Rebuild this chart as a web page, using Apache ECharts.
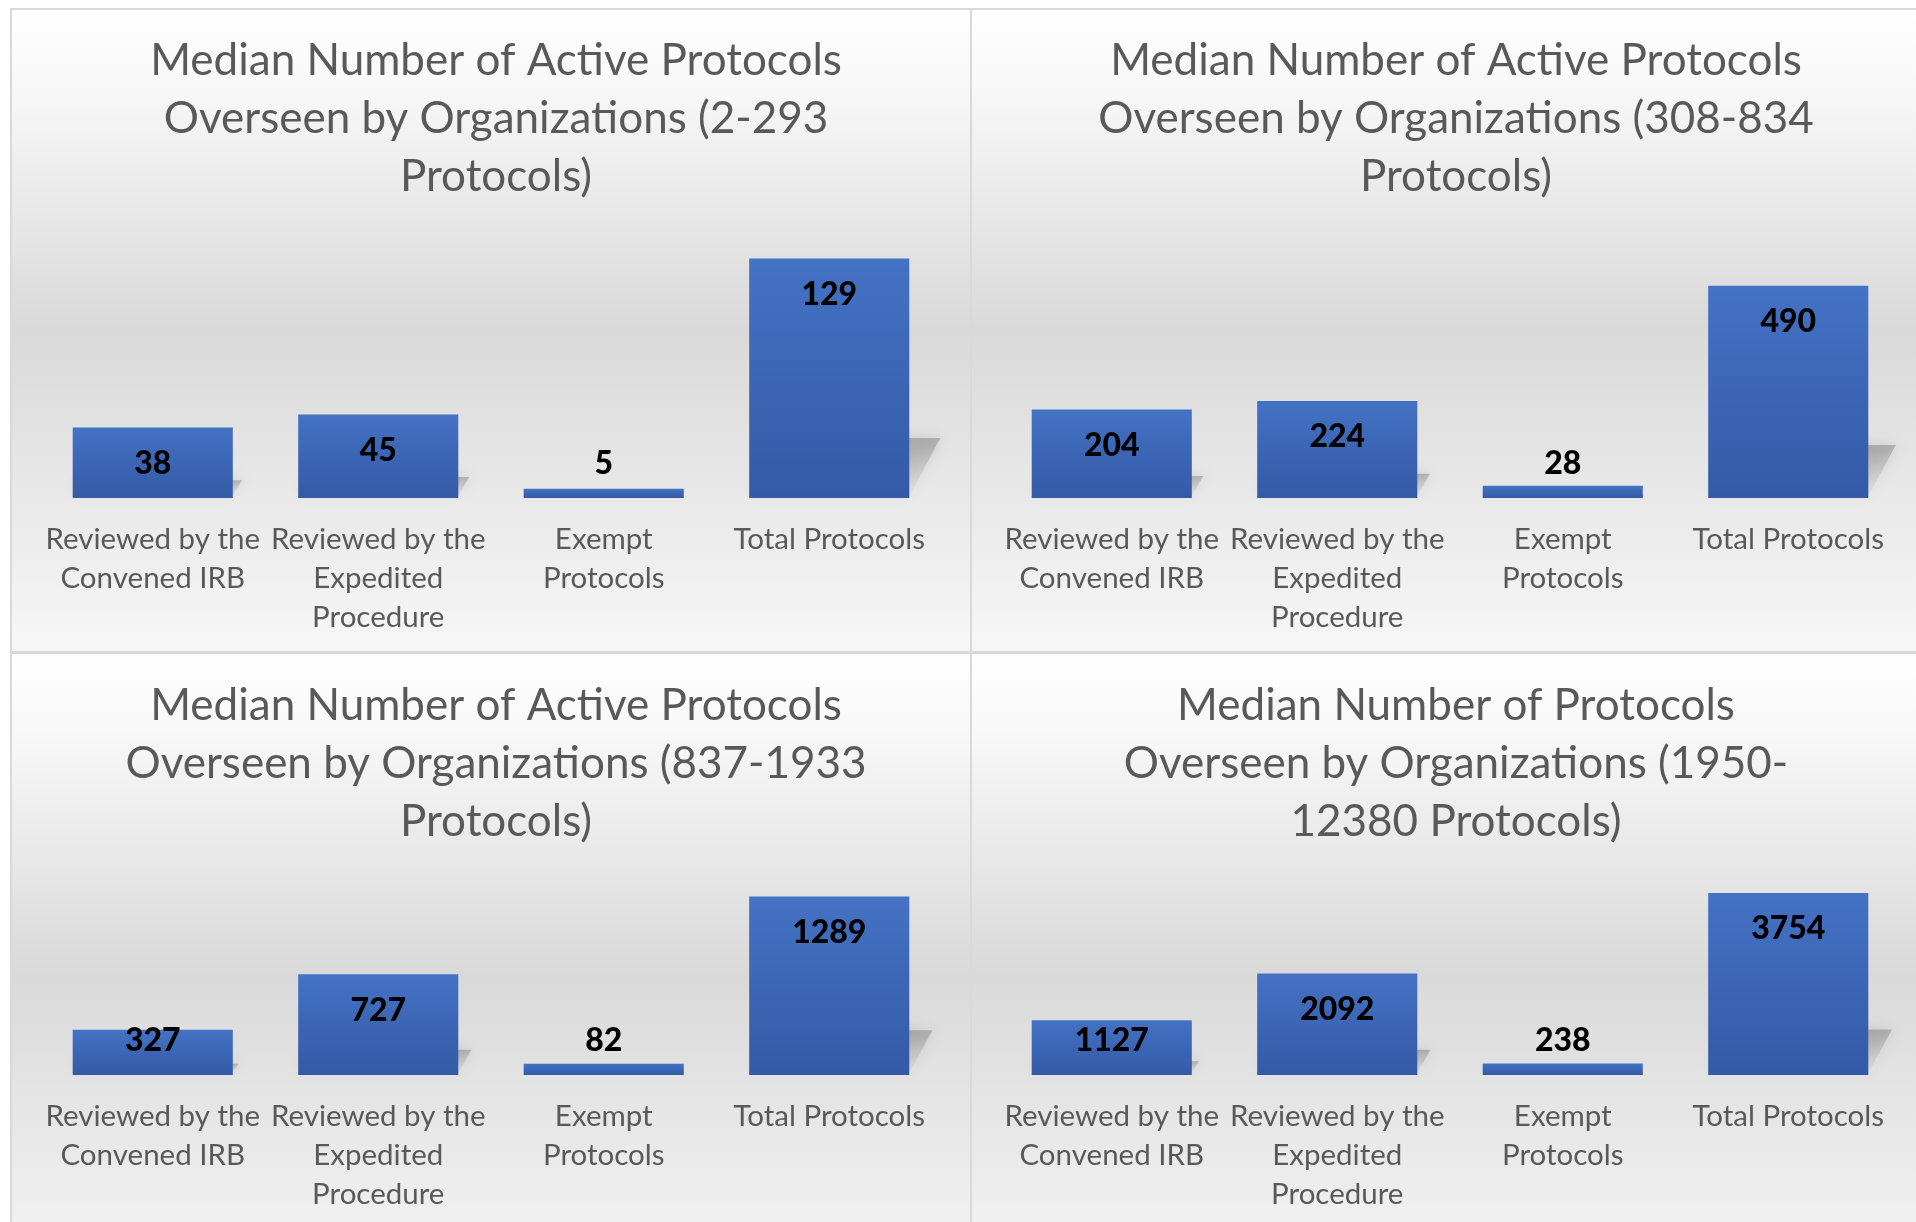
<!DOCTYPE html>
<html>
<head>
<meta charset="utf-8">
<title>Median Number of Active Protocols</title>
<script src="https://cdn.jsdelivr.net/npm/echarts@6/dist/echarts.min.js"></script>
<style>
  html, body { margin: 0; padding: 0; background: #fff; }
  #main { width: 1916px; height: 1222px; }
</style>
</head>
<body>
<div id="main"></div>
<script>
// categories (same in all four panels)
var categories = ['Reviewed by the\nConvened IRB', 'Reviewed by the\nExpedited\nProcedure', 'Exempt\nProtocols', 'Total Protocols'];

// median values per organization size group
var orgs2to293 = [38, 45, 5, 129];
var orgs308to834 = [204, 224, 28, 490];
var orgs837to1933 = [327, 727, 82, 1289];
var orgs1950to12380 = [1127, 2092, 238, 3754];

// hidden value axis maxima (Excel auto scale)
var axisMax = [140, 600, 1400, 4000];

var titles = [
  'Median Number of Active Protocols\nOverseen by Organizations (2-293\nProtocols)',
  'Median Number of Active Protocols\nOverseen by Organizations (308-834\nProtocols)',
  'Median Number of Active Protocols\nOverseen by Organizations (837-1933\nProtocols)',
  'Median Number of Protocols\nOverseen by Organizations (1950-\n12380 Protocols)'
];
var allValues = [orgs2to293, orgs308to834, orgs837to1933, orgs1950to12380];

// layout of the four panels
var panels = [
  { x: 11, y: 9, w: 960, h: 643, gridLeft: 40, gridTop: 238, gridH: 260, titleTop: 27 },
  { x: 971, y: 9, w: 960, h: 643, gridLeft: 999, gridTop: 238, gridH: 260, titleTop: 27 },
  { x: 11, y: 653, w: 960, h: 643, gridLeft: 40, gridTop: 881, gridH: 194, titleTop: 672 },
  { x: 971, y: 653, w: 960, h: 643, gridLeft: 999, gridTop: 881, gridH: 194, titleTop: 672 }
];

var FONT = 'Lato, "Open Sans", sans-serif';

var graphic = [], title = [], grid = [], xAxis = [], yAxis = [], series = [];

panels.forEach(function (p, k) {
  graphic.push({
    type: 'rect', z: -10,
    shape: { x: p.x, y: p.y, width: p.w, height: p.h },
    style: {
      fill: new echarts.graphic.LinearGradient(0, 0, 0, 1, [
        { offset: 0, color: '#ffffff' },
        { offset: 0.12, color: '#f8f8f8' },
        { offset: 0.5, color: '#d9d9d9' },
        { offset: 1, color: '#f7f7f7' }
      ]),
      stroke: '#d9d9d9', lineWidth: 2
    }
  });

  title.push({
    text: titles[k],
    left: p.x + p.w / 2, top: p.titleTop,
    textAlign: 'center',
    textStyle: { fontFamily: FONT, fontSize: 44, fontWeight: 'normal', color: '#595959', lineHeight: 58 }
  });

  grid.push({ left: p.gridLeft, top: p.gridTop, width: 902, height: p.gridH });

  xAxis.push({
    type: 'category', gridIndex: k, data: categories,
    axisLine: { show: false }, axisTick: { show: false },
    axisLabel: { interval: 0, margin: 22, fontFamily: FONT, fontSize: 29.5, color: '#595959', lineHeight: 39 }
  });

  yAxis.push({ type: 'value', gridIndex: k, min: 0, max: axisMax[k], show: false, splitLine: { show: false } });

  var vals = allValues[k];
  var barData = vals.map(function (v) {
    var px = v / axisMax[k] * p.gridH;
    var tall = px >= 70;
    return {
      value: v,
      label: tall ? { position: 'insideTop', distance: 16 } : { position: 'insideBottom', distance: 14 }
    };
  });

  // soft perspective shadow behind each bar
  series.push({
    type: 'custom', xAxisIndex: k, yAxisIndex: k, z: 1, silent: true,
    data: vals.map(function (v, i) { return [i, v]; }),
    renderItem: function (params, api) {
      var base = api.coord([api.value(0), 0]);
      var top = api.coord([api.value(0), api.value(1)]);
      var w = api.size([1, 0])[0] * 0.71;
      var h = base[1] - top[1];
      var right = base[0] + w / 2;
      var sh = h * 0.25, sk = h * 0.13;
      return {
        type: 'polygon',
        shape: { points: [[right - w + sk, base[1] - sh], [right + sk, base[1] - sh], [right, base[1] - 2], [right - w, base[1] - 2]] },
        style: {
          fill: new echarts.graphic.LinearGradient(0, 0, 0, 1, [
            { offset: 0, color: 'rgba(110,110,110,0.42)' },
            { offset: 1, color: 'rgba(160,160,160,0.08)' }
          ]),
          shadowBlur: 14, shadowColor: 'rgba(100,100,100,0.5)'
        }
      };
    }
  });

  series.push({
    type: 'bar', xAxisIndex: k, yAxisIndex: k, z: 3,
    barCategoryGap: '29%',
    data: barData,
    itemStyle: {
      color: new echarts.graphic.LinearGradient(0, 0, 0, 1, [
        { offset: 0, color: '#4472c4' },
        { offset: 1, color: '#335aa6' }
      ])
    },
    label: {
      show: true, color: '#000', fontFamily: FONT, fontWeight: 900, fontSize: 32, lineHeight: 40
    }
  });
});

var chart = echarts.init(document.getElementById('main'));
chart.setOption({
  backgroundColor: '#ffffff',
  animation: false,
  graphic: graphic,
  title: title,
  grid: grid,
  xAxis: xAxis,
  yAxis: yAxis,
  series: series
});
</script>
</body>
</html>
